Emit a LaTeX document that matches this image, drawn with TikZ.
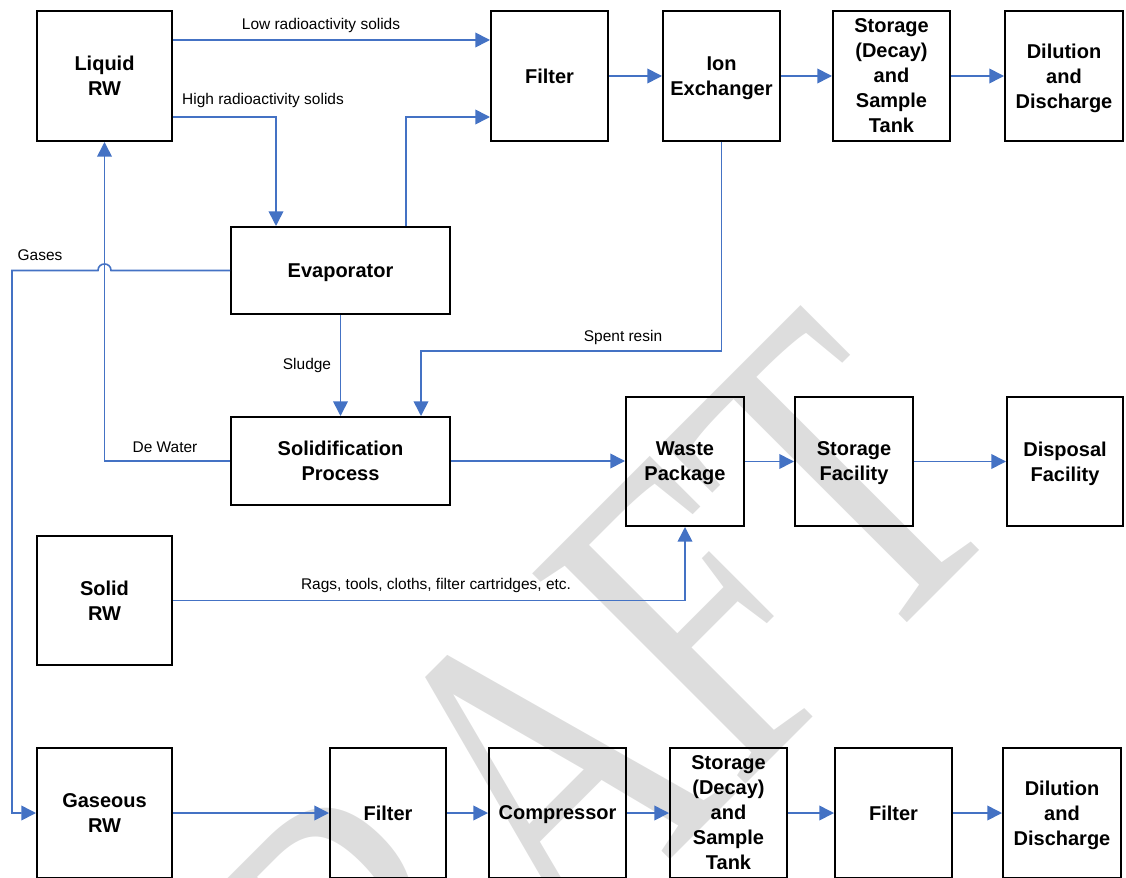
\documentclass[tikz,border=0pt]{standalone}
\usepackage{fontspec}
\setmainfont{Liberation Sans}
\newfontfamily\wmfont{Liberation Serif}
\usetikzlibrary{arrows.meta,fit}
\definecolor{flow}{RGB}{68,114,196}
\definecolor{wm}{RGB}{221,221,221}
\begin{document}
\begin{tikzpicture}[x=0.75pt,y=-0.75pt,
  box/.style={draw=black, line width=1.5pt, inner sep=0pt},
  boxtext/.style={inner sep=0pt, align=center, text depth=0pt,
    font=\fontsize{15pt}{18.75pt}\selectfont\bfseries},
  arr/.style={draw=flow, line width=1.2pt, -{Triangle[length=11pt,width=11pt]}},
  lbl/.style={font=\fontsize{11.6pt}{13pt}\selectfont, inner sep=0pt}]
\useasboundingbox (0,0) rectangle (1126,877);
\clip (0,0) rectangle (1126,877);
% watermark
\node[rotate=45, xscale=0.74, anchor=base, text=wm, inner sep=0pt,
  font=\wmfont\fontsize{343pt}{343pt}\selectfont] (wmark) at (625,905) {DRAFT};
% boxes
\node[box, fit={(37,11)(172,141)}] (liquid) {};
\node[box, fit={(491,11)(608,141)}] (filterA) {};
\node[box, fit={(663,11)(780,141)}] (ion) {};
\node[box, fit={(833,11)(950,141)}] (storA) {};
\node[box, fit={(1005,11)(1123,141)}] (dilA) {};
\node[box, fit={(231,227)(450,314)}] (evap) {};
\node[box, fit={(231,417)(450,505)}] (solid) {};
\node[box, fit={(626,397)(744,526)}] (waste) {};
\node[box, fit={(795,397)(913,526)}] (storF) {};
\node[box, fit={(1007,397)(1123,526)}] (disp) {};
\node[box, fit={(37,536)(172,665)}] (solidrw) {};
\node[box, fit={(37,748)(172,878)}] (gas) {};
\node[box, fit={(330,748)(446,878)}] (filterB) {};
\node[box, fit={(489,748)(626,878)}] (comp) {};
\node[box, fit={(670,748)(787,878)}] (storB) {};
\node[box, fit={(835,748)(952,878)}] (filterC) {};
\node[box, fit={(1003,748)(1121,878)}] (dilB) {};
% box texts
\node[boxtext] (tliquid) at (liquid.center) {Liquid\\RW};
\node[boxtext] (tfilterA) at (filterA.center) {Filter};
\node[boxtext] (tion) at (ion.center) {Ion\\Exchanger};
\node[boxtext] (tstorA) at (storA.center) {Storage\\(Decay)\\and\\Sample\\Tank};
\node[boxtext] (tdilA) at (dilA.center) {Dilution\\and\\Discharge};
\node[boxtext] (tevap) at (evap.center) {Evaporator};
\node[boxtext] (tsolid) at (solid.center) {Solidification\\Process};
\node[boxtext] (twaste) at (waste.center) {Waste\\Package};
\node[boxtext] (tstorF) at (storF.center) {Storage\\Facility};
\node[boxtext] (tdisp) at (disp.center) {Disposal\\Facility};
\node[boxtext] (tsolidrw) at (solidrw.center) {Solid\\RW};
\node[boxtext] (tgas) at (gas.center) {Gaseous\\RW};
\node[boxtext] (tfilterB) at (filterB.center) {Filter};
\node[boxtext] (tcomp) at (comp.center) {Compressor};
\node[boxtext] (tstorB) at (storB.center) {Storage\\(Decay)\\and\\Sample\\Tank};
\node[boxtext] (tfilterC) at (filterC.center) {Filter};
\node[boxtext] (tdilB) at (dilB.center) {Dilution\\and\\Discharge};
% connectors, top part
\draw[arr] (liquid.east |- 0,40) -- (filterA.west |- 0,40);
\draw[arr] (liquid.east |- 0,117) -| (evap.north -| 276,0);
\draw[arr] (evap.north -| 406,0) |- (filterA.west |- 0,117);
\draw[arr] (filterA) -- (ion);
\draw[arr] (ion) -- (storA);
\draw[arr] (storA) -- (dilA);
\draw[arr] (ion.south) -- (ion.south |- 0,351) -| (solid.north -| 421,0);
\draw[arr] (evap.south) -- (solid.north -| evap.south);
\draw[arr] (solid.west) -| (liquid.south);
\draw[arr] (evap.west) -- (evap.west -| 111,0)
  .. controls (111,261.8) and (98,261.8) .. (98,270.5)
  -- (12,270.5) -- (12,0 |- gas.west) -- (gas.west);
% middle row
\draw[arr] (solid) -- (waste.west |- solid.east);
\draw[arr] (waste) -- (storF);
\draw[arr] (storF) -- (disp);
\draw[arr] (solidrw.east) -| (waste.south);
% bottom row
\draw[arr] (gas) -- (filterB);
\draw[arr] (filterB) -- (comp);
\draw[arr] (comp) -- (storB);
\draw[arr] (storB) -- (filterC);
\draw[arr] (filterC) -- (dilB);
% labels
\node[lbl] (lLow) at (321,26) {Low radioactivity solids};
\node[lbl] (lHigh) at (263,101) {High radioactivity solids};
\node[lbl] (lGas) at (40,255) {Gases};
\node[lbl] (lSpent) at (623,337) {Spent resin};
\node[lbl] (lSludge) at (307,365) {Sludge};
\node[lbl] (lDe) at (165,447) {De Water};
\node[lbl] (lRags) at (436,585) {Rags, tools, cloths, filter cartridges, etc.};
\end{tikzpicture}
\end{document}
